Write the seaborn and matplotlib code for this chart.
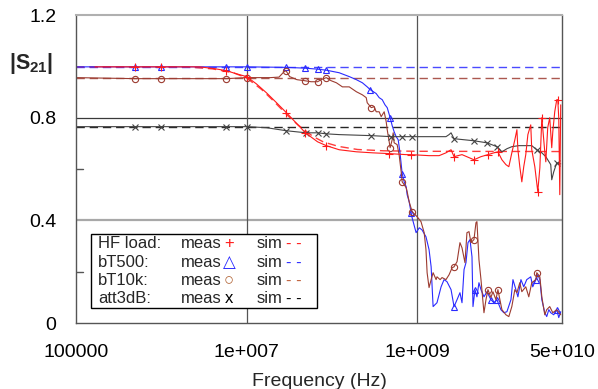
import numpy as np
import pandas as pd
import matplotlib
matplotlib.use("Agg")
import matplotlib.pyplot as plt
import seaborn as sns
from matplotlib.patches import Rectangle

# ---------------- data (frequency in Hz, |S21|) ----------------
hf_meas = [(1.67e5, 0.998), (4.9e5, 0.998), (1e6, 0.998), (2.8e6, 0.998), (4.2e6, 0.991),
           (5.8e6, 0.983), (7.6e6, 0.971), (1e7, 0.960), (1.3e7, 0.932), (1.71e7, 0.897),
           (2.25e7, 0.858), (2.94e7, 0.819), (3.9e7, 0.776), (4.9e7, 0.741), (6.8e7, 0.706),
           (8.6e7, 0.691), (1.22e8, 0.675), (1.94e8, 0.667), (3.0e8, 0.663), (4.7e8, 0.660),
           (7.4e8, 0.656), (8.5e8, 0.656), (1.38e9, 0.652), (1.81e9, 0.652), (2.18e9, 0.663),
           (2.5e9, 0.675), (2.71e9, 0.648), (3.36e9, 0.656), (4.64e9, 0.636), (5.6e9, 0.648),
           (6.77e9, 0.656), (7.95e9, 0.663), (8.86e9, 0.667), (9.87e9, 0.636), (1.1e10, 0.617),
           (1.19e10, 0.609), (1.29e10, 0.663), (1.4e10, 0.714), (1.48e10, 0.753), (1.52e10, 0.675),
           (1.6e10, 0.609), (1.69e10, 0.550), (1.78e10, 0.609), (1.88e10, 0.656), (1.99e10, 0.734),
           (2.15e10, 0.772), (2.21e10, 0.675), (2.4e10, 0.609), (2.6e10, 0.512), (2.75e10, 0.605),
           (2.9e10, 0.800), (3.14e10, 0.667), (3.23e10, 0.628), (3.4e10, 0.761), (3.59e10, 0.800),
           (3.79e10, 0.683), (3.9e10, 0.745), (4.11e10, 0.823), (4.34e10, 0.870), (4.46e10, 0.870),
           (4.58e10, 0.800), (4.71e10, 0.500), (4.83e10, 0.850)]
hf_marks = [4.9e5, 1e6, 5.8e6, 1e7, 2.94e7, 4.9e7, 8.6e7, 4.7e8, 8.5e8, 2.71e9, 4.64e9,
            6.77e9, 8.86e9, 2.6e10, 2.9e10, 4.46e10]
hf_sim = [(1e5, 0.998), (2e6, 0.998), (4e6, 0.990), (7e6, 0.975), (1e7, 0.955), (1.5e7, 0.910),
          (2e7, 0.870), (3e7, 0.810), (4e7, 0.772), (6e7, 0.727), (8e7, 0.705), (1.2e8, 0.688),
          (2e8, 0.676), (4e8, 0.671), (1e9, 0.669), (5e10, 0.668)]

bt500_meas = [(1e5, 0.998), (4.9e5, 0.998), (1e6, 0.998), (5.8e6, 0.998), (1e7, 0.998),
              (2.9e7, 0.996), (4.8e7, 0.993), (6.8e7, 0.989), (8.6e7, 0.985), (1.22e8, 0.975),
              (1.6e8, 0.960), (1.94e8, 0.948), (2.28e8, 0.936), (2.6e8, 0.920), (2.82e8, 0.909),
              (3.31e8, 0.894), (3.59e8, 0.878), (3.9e8, 0.870), (4.2e8, 0.850), (4.46e8, 0.839),
              (4.83e8, 0.800), (5.1e8, 0.769), (5.38e8, 0.745), (5.68e8, 0.726), (6.0e8, 0.714),
              (6.3e8, 0.663), (6.68e8, 0.582), (7.05e8, 0.550), (7.44e8, 0.531), (7.64e8, 0.500),
              (8.06e8, 0.473), (8.5e8, 0.430), (8.74e8, 0.410), (9.73e8, 0.352), (1.06e9, 0.371),
              (1.14e9, 0.363), (1.27e9, 0.336), (1.38e9, 0.286), (1.46e9, 0.219), (1.54e9, 0.064),
              (1.71e9, 0.079), (1.91e9, 0.141), (2.07e9, 0.169), (2.24e9, 0.161), (2.5e9, 0.130),
              (2.71e9, 0.064), (2.94e9, 0.091), (3.18e9, 0.118), (3.36e9, 0.079), (3.55e9, 0.208),
              (3.74e9, 0.235), (3.95e9, 0.313), (4.17e9, 0.325), (4.4e9, 0.258), (4.52e9, 0.064),
              (4.77e9, 0.130), (5.03e9, 0.102), (5.31e9, 0.157), (5.61e9, 0.130), (6.08e9, 0.102),
              (6.59e9, 0.122), (7.33e9, 0.091), (7.95e9, 0.079), (8.63e9, 0.091), (9.6e9, 0.052),
              (1.04e10, 0.040), (1.13e10, 0.044), (1.26e10, 0.091), (1.33e10, 0.169), (1.44e10, 0.130),
              (1.52e10, 0.102), (1.65e10, 0.169), (1.78e10, 0.141), (1.93e10, 0.169), (2.15e10, 0.180),
              (2.27e10, 0.141), (2.47e10, 0.169), (2.6e10, 0.188), (2.75e10, 0.169), (2.9e10, 0.091),
              (3.14e10, 0.040), (3.31e10, 0.025), (3.5e10, 0.052), (3.69e10, 0.040), (4.0e10, 0.032),
              (4.34e10, 0.052), (4.58e10, 0.021), (4.83e10, 0.044)]
bt500_marks = [4.9e5, 1e6, 5.8e6, 1e7, 2.9e7, 4.8e7, 6.8e7, 8.6e7, 2.82e8, 4.83e8, 6.68e8,
               8.5e8, 2.71e9, 4.77e9, 7.33e9, 8.63e9, 2.47e10, 4.34e10]
bt500_sim = [(1e5, 0.998), (5e10, 0.998)]

bt10k_meas = [(1e5, 0.956), (4.9e5, 0.952), (1e6, 0.952), (5.8e6, 0.952), (1e7, 0.956),
              (1.9e7, 0.956), (2.4e7, 0.958), (2.75e7, 0.979), (2.9e7, 0.983), (3.2e7, 0.960),
              (3.9e7, 0.948), (4.8e7, 0.944), (5.7e7, 0.940), (6.8e7, 0.940), (7.5e7, 0.948),
              (8.6e7, 0.956), (9.8e7, 0.944), (1.13e8, 0.936), (1.33e8, 0.920), (1.6e8, 0.920),
              (1.94e8, 0.901), (2.28e8, 0.889), (2.53e8, 0.878), (2.6e8, 0.858), (2.9e8, 0.839),
              (3.14e8, 0.843), (3.31e8, 0.823), (3.59e8, 0.823), (3.79e8, 0.804), (4.11e8, 0.823),
              (4.34e8, 0.784), (4.46e8, 0.753), (4.83e8, 0.683), (5.1e8, 0.714), (5.24e8, 0.741),
              (5.38e8, 0.702), (5.83e8, 0.695), (6.15e8, 0.656), (6.5e8, 0.589), (6.68e8, 0.550),
              (7.05e8, 0.539), (7.44e8, 0.527), (7.64e8, 0.512), (8.06e8, 0.473), (8.74e8, 0.434),
              (1.0e9, 0.414), (1.11e9, 0.395), (1.21e9, 0.352), (1.27e9, 0.286), (1.31e9, 0.196),
              (1.38e9, 0.138), (1.46e9, 0.169), (1.54e9, 0.196), (1.67e9, 0.169), (1.71e9, 0.180),
              (1.86e9, 0.169), (1.96e9, 0.177), (2.18e9, 0.169), (2.37e9, 0.188), (2.57e9, 0.215),
              (2.71e9, 0.219), (2.94e9, 0.239), (3.18e9, 0.313), (3.36e9, 0.293), (3.64e9, 0.235),
              (3.84e9, 0.352), (4.06e9, 0.356), (4.28e9, 0.313), (4.64e9, 0.325), (4.9e9, 0.391),
              (5.03e9, 0.395), (5.31e9, 0.247), (5.61e9, 0.169), (6.08e9, 0.040), (6.42e9, 0.091),
              (6.77e9, 0.130), (7.33e9, 0.099), (7.74e9, 0.122), (8.4e9, 0.091), (8.86e9, 0.130),
              (9.35e9, 0.091), (9.87e9, 0.052), (1.1e10, 0.032), (1.19e10, 0.025), (1.29e10, 0.064),
              (1.4e10, 0.130), (1.48e10, 0.118), (1.6e10, 0.157), (1.69e10, 0.122), (1.88e10, 0.141),
              (2.04e10, 0.102), (2.21e10, 0.157), (2.47e10, 0.169), (2.53e10, 0.196), (2.75e10, 0.180),
              (2.9e10, 0.102), (3.14e10, 0.032), (3.31e10, 0.052), (3.59e10, 0.064), (3.9e10, 0.040),
              (4.34e10, 0.052), (4.83e10, 0.032)]
bt10k_marks = [4.9e5, 1e6, 5.8e6, 1e7, 2.9e7, 4.8e7, 6.8e7, 8.6e7, 2.9e8, 4.83e8, 6.68e8,
               8.74e8, 2.71e9, 4.64e9, 6.77e9, 8.86e9, 2.53e10]
bt10k_sim = [(1e5, 0.955), (5e10, 0.955)]

att_meas = [(1e5, 0.765), (4.9e5, 0.765), (1e6, 0.765), (5.8e6, 0.765), (1e7, 0.765),
            (1.71e7, 0.761), (2.94e7, 0.749), (5.0e7, 0.741), (6.8e7, 0.741), (8.6e7, 0.737),
            (1.22e8, 0.734), (2.9e8, 0.730), (5.0e8, 0.726), (6.68e8, 0.726), (8.74e8, 0.726),
            (1.38e9, 0.726), (2.18e9, 0.726), (2.37e9, 0.734), (2.5e9, 0.741), (2.71e9, 0.718),
            (3.55e9, 0.714), (4.64e9, 0.710), (6.59e9, 0.702), (8.63e9, 0.687), (9.87e9, 0.667),
            (1.13e10, 0.679), (1.29e10, 0.687), (1.56e10, 0.691), (2.21e10, 0.691), (2.53e10, 0.675),
            (2.9e10, 0.663), (3.23e10, 0.648), (3.69e10, 0.617), (3.79e10, 0.558), (4.0e10, 0.589),
            (4.34e10, 0.624), (4.83e10, 0.620)]
att_marks = [4.9e5, 1e6, 5.8e6, 1e7, 2.94e7, 5.0e7, 6.8e7, 8.6e7, 2.9e8, 5.0e8, 6.68e8,
             8.74e8, 2.71e9, 4.64e9, 6.59e9, 8.63e9, 2.53e10, 4.34e10]
att_sim = [(1e5, 0.765), (5e10, 0.765)]

x_ticks = [1e5, 1e7, 1e9, 5e10]
x_ticklabels = ["100000", "1e+007", "1e+009", "5e+010"]
y_ticks = [0, 0.4, 0.8, 1.2]
y_ticklabels = ["0", "0.4", "0.8", "1.2"]
y_minor = [0.2, 0.6]
legend_names = ["HF load:", "bT500:", "bT10k:", "att3dB:"]

# ---------------- style ----------------
sns.set_theme(style="white")
plt.rcParams["font.family"] = ["Liberation Sans", "DejaVu Sans"]
plt.rcParams["mathtext.fontset"] = "custom"
plt.rcParams["mathtext.rm"] = "Liberation Sans"
plt.rcParams["mathtext.bf"] = "Liberation Sans:bold"

RED = "#ff1a1a"
BLUE = "#2a2aff"
BROWN = "#9c3b30"

fig = plt.figure(figsize=(5.98, 3.89), dpi=100)
ax = fig.add_axes([76 / 598, 66 / 389, 486 / 598, 308 / 389])
ax.set_facecolor("white")


def frame(pairs):
    return pd.DataFrame(pairs, columns=["freq", "s21"])


def mark_idx(pairs, marks):
    f = np.array([p[0] for p in pairs])
    return [int(i) for i in np.where([np.any(np.isclose(v, marks, rtol=1e-6)) for v in f])[0]]


dash = (0, (6, 3.5))
for pairs, col in [(bt500_sim, BLUE), (bt10k_sim, BROWN), (att_sim, "black"), (hf_sim, RED)]:
    sns.lineplot(data=frame(pairs), x="freq", y="s21", ax=ax, color=col, lw=1.0,
                 linestyle=dash, estimator=None, sort=False, legend=False, alpha=0.85)

meas = [
    (bt500_meas, bt500_marks, BLUE, "^", 4.5),
    (bt10k_meas, bt10k_marks, BROWN, "o", 4.5),
    (att_meas, att_marks, "#444444", "x", 4),
    (hf_meas, hf_marks, RED, "+", 5.5),
]
for pairs, marks, col, mk, ms in meas:
    sns.lineplot(data=frame(pairs), x="freq", y="s21", ax=ax, color=col, lw=0.8,
                 estimator=None, sort=False, legend=False,
                 marker=mk, markevery=mark_idx(pairs, marks), markersize=ms,
                 markerfacecolor="none", markeredgecolor=col, markeredgewidth=0.8)

ax.set_xscale("log")
ax.set_xlim(1e5, 5e10)
ax.set_ylim(0, 1.2)

ax.axhline(0.4, color="#a8a8a8", lw=1.6, zorder=0.5)
ax.axhline(0.8, color="#3a3a3a", lw=0.9, zorder=0.5)
for xv in [1e7, 1e9]:
    ax.axvline(xv, color="#555555", lw=0.9, zorder=0.5)
# short inward minor ticks on the left spine
for yv in y_minor:
    ax.axhline(yv, xmin=0, xmax=7 / 486, color="#555555", lw=1.0, zorder=0.6)

for side in ["left", "right", "bottom"]:
    ax.spines[side].set_color("#555555")
    ax.spines[side].set_linewidth(1.0)
ax.spines["top"].set_color("#b0b0b0")
ax.spines["top"].set_linewidth(1.5)

ax.set_xticks(x_ticks)
ax.set_xticklabels(x_ticklabels)
ax.xaxis.set_minor_locator(matplotlib.ticker.NullLocator())
ax.yaxis.set_minor_locator(matplotlib.ticker.NullLocator())
ax.set_yticks(y_ticks)
ax.set_yticklabels(y_ticklabels)
ax.tick_params(axis="both", which="both", length=0, labelsize=14, colors="black")
ax.tick_params(axis="x", which="major", pad=15)
ax.tick_params(axis="y", which="major", pad=14)

ax.set_xlabel("Frequency (Hz)", fontsize=14, labelpad=9)
ax.set_ylabel("")
fig.text(31 / 598, 1 - 63 / 389, r"$\mathbf{|S_{21}|}$", fontsize=15.5, ha="center", va="center")

# legend box
ax.add_patch(Rectangle((0.0302, 0.0487), 0.465, 0.240, transform=ax.transAxes,
                       facecolor="white", edgecolor="black", lw=1.0, zorder=10))
rows_y = [0.259, 0.198, 0.137, 0.078]
sym = ["+", "\u25b3", "\u25cb", "x"]
sym_col = [RED, BLUE, "#b06030", "black"]
dash_col = [RED, BLUE, "#c0603a", "black"]
for name, yy, s, sc, dc in zip(legend_names, rows_y, sym, sym_col, dash_col):
    kw = dict(transform=ax.transAxes, fontsize=12, va="center", zorder=11)
    ax.text(0.045, yy, name, **kw)
    ax.text(0.216, yy, "meas", **kw)
    ax.text(0.315, yy, s, color=sc, ha="center", **kw)
    ax.text(0.372, yy, "sim", **kw)
    ax.text(0.432, yy, "- -", color=dc, **kw)

fig.savefig("out.png", dpi=100, facecolor="white")
